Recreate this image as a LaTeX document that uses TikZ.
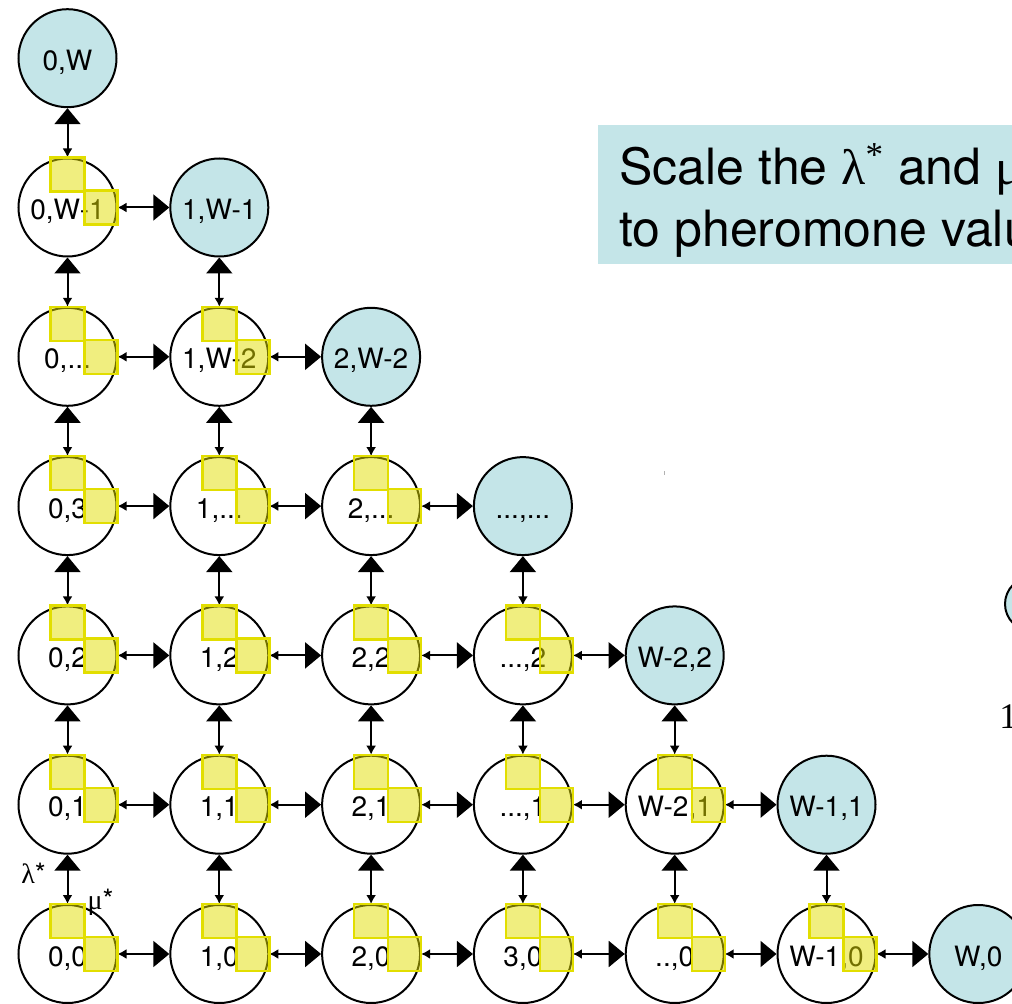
\documentclass[tikz,border=0pt]{standalone}
\usepackage{fontspec}
\setmainfont{TeX Gyre Heros}
\newfontfamily\greekfont{Liberation Serif}
\usetikzlibrary{arrows.meta, positioning}
\definecolor{goalblue}{RGB}{196,229,232}
\definecolor{trailyellow}{RGB}{226,222,0}
% two pheromone squares on a state: one on top, one on the right
\newcommand{\trail}[1]{\draw[trail, shift={(#1.center)}] (-17,16) rectangle (17,50) (17,-17) rectangle (50,17);}

\begin{document}
\begin{tikzpicture}[
  x=0.5pt, y=0.5pt,
  node distance={24.65pt and 25.9pt},
  state/.style={circle, draw, line width=1pt, fill=white, minimum size=49pt, inner sep=0pt,
                text height=12pt, text depth=0pt, font=\fontsize{14}{16}\selectfont},
  goal/.style={state, fill=goalblue},
  trail/.style={draw=trailyellow, line width=1.2pt, fill=trailyellow, fill opacity=0.5},
  link/.style={{Latex[length=4.5pt, width=5pt]}-{Triangle[length=8pt, width=13pt]}, line width=1pt},
  lbl/.style={font=\fontsize{14}{16}\selectfont},
  note/.style={fill=goalblue, minimum width=260pt, minimum height=69.5pt, anchor=north west, inner sep=0pt},
  notetext/.style={anchor=base west, inner sep=0pt, font=\fontsize{25}{30}\selectfont}
]
\useasboundingbox (0,0) rectangle (1012,1003);
\clip (0,0) rectangle (1012,1003);

% column 0
\node[state] (s00) at (67.5,49) {0,0};
\node[state, above=of s00] (s01) {0,1};
\node[state, above=of s01] (s02) {0,2};
\node[state, above=of s02] (s03) {0,3};
\node[state, above=of s03] (s04) {0,...};
\node[state, above=of s04] (s05) {0,W-1};
\node[goal, above=of s05] (s06) {0,W};

% column 1
\node[state, right=of s00] (s10) {1,0};
\node[state, above=of s10] (s11) {1,1};
\node[state, above=of s11] (s12) {1,2};
\node[state, above=of s12] (s13) {1,...};
\node[state, above=of s13] (s14) {1,W-2};
\node[goal, above=of s14] (s15) {1,W-1};

% column 2
\node[state, right=of s10] (s20) {2,0};
\node[state, above=of s20] (s21) {2,1};
\node[state, above=of s21] (s22) {2,2};
\node[state, above=of s22] (s23) {2,...};
\node[goal, above=of s23] (s24) {2,W-2};

% column 3
\node[state, right=of s20] (s30) {3,0};
\node[state, above=of s30] (s31) {...,1};
\node[state, above=of s31] (s32) {...,2};
\node[goal, above=of s32] (s33) {...,...};

% columns 4 to 6
\node[state, right=of s30] (s40) {..,0};
\node[state, above=of s40] (s41) {W-2,1};
\node[goal, above=of s41] (s42) {W-2,2};
\node[state, right=of s40] (s50) {W-1,0};
\node[goal, above=of s50] (s51) {W-1,1};
\node[goal, right=of s50] (s60) {W,0};

% vertical links
\draw[link] (s00.north) -- (s01.south);
\draw[link] (s01.north) -- (s02.south);
\draw[link] (s02.north) -- (s03.south);
\draw[link] (s03.north) -- (s04.south);
\draw[link] (s04.north) -- (s05.south);
\draw[link] (s05.north) -- (s06.south);
\draw[link] (s10.north) -- (s11.south);
\draw[link] (s11.north) -- (s12.south);
\draw[link] (s12.north) -- (s13.south);
\draw[link] (s13.north) -- (s14.south);
\draw[link] (s14.north) -- (s15.south);
\draw[link] (s20.north) -- (s21.south);
\draw[link] (s21.north) -- (s22.south);
\draw[link] (s22.north) -- (s23.south);
\draw[link] (s23.north) -- (s24.south);
\draw[link] (s30.north) -- (s31.south);
\draw[link] (s31.north) -- (s32.south);
\draw[link] (s32.north) -- (s33.south);
\draw[link] (s40.north) -- (s41.south);
\draw[link] (s41.north) -- (s42.south);
\draw[link] (s50.north) -- (s51.south);

% horizontal links
\draw[link] (s00.east) -- (s10.west);
\draw[link] (s10.east) -- (s20.west);
\draw[link] (s20.east) -- (s30.west);
\draw[link] (s30.east) -- (s40.west);
\draw[link] (s40.east) -- (s50.west);
\draw[link] (s50.east) -- (s60.west);
\draw[link] (s01.east) -- (s11.west);
\draw[link] (s11.east) -- (s21.west);
\draw[link] (s21.east) -- (s31.west);
\draw[link] (s31.east) -- (s41.west);
\draw[link] (s41.east) -- (s51.west);
\draw[link] (s02.east) -- (s12.west);
\draw[link] (s12.east) -- (s22.west);
\draw[link] (s22.east) -- (s32.west);
\draw[link] (s32.east) -- (s42.west);
\draw[link] (s03.east) -- (s13.west);
\draw[link] (s13.east) -- (s23.west);
\draw[link] (s23.east) -- (s33.west);
\draw[link] (s04.east) -- (s14.west);
\draw[link] (s14.east) -- (s24.west);
\draw[link] (s05.east) -- (s15.west);

% pheromone squares
\trail{s00} \trail{s01} \trail{s02} \trail{s03} \trail{s04} \trail{s05}
\trail{s10} \trail{s11} \trail{s12} \trail{s13} \trail{s14}
\trail{s20} \trail{s21} \trail{s22} \trail{s23}
\trail{s30} \trail{s31} \trail{s32}
\trail{s40} \trail{s41}
\trail{s50}

% rates
\node[lbl] (lam) at (33.5,130) {{\greekfont λ}*};
\node[lbl] (mu) at (100.5,101) {{\greekfont μ}*};

% note box
\node[note] (box) at (598,878) {};
\node[notetext] (line1) at (619,818) {Scale the {\greekfont λ\textsuperscript{*}} and {\greekfont μ\textsuperscript{*}}};
\node[notetext] (line2) at (619,756) {to pheromone values};

% bits at the right edge
\node[goal, minimum size=27pt] (edge) at (1032,399) {};
\node[anchor=base west, inner sep=0pt, font=\fontsize{18}{20}\selectfont\greekfont] (tick) at (999,275) {1};
\fill[gray!60] (663.5,528) rectangle (665,532);
\end{tikzpicture}
\end{document}
